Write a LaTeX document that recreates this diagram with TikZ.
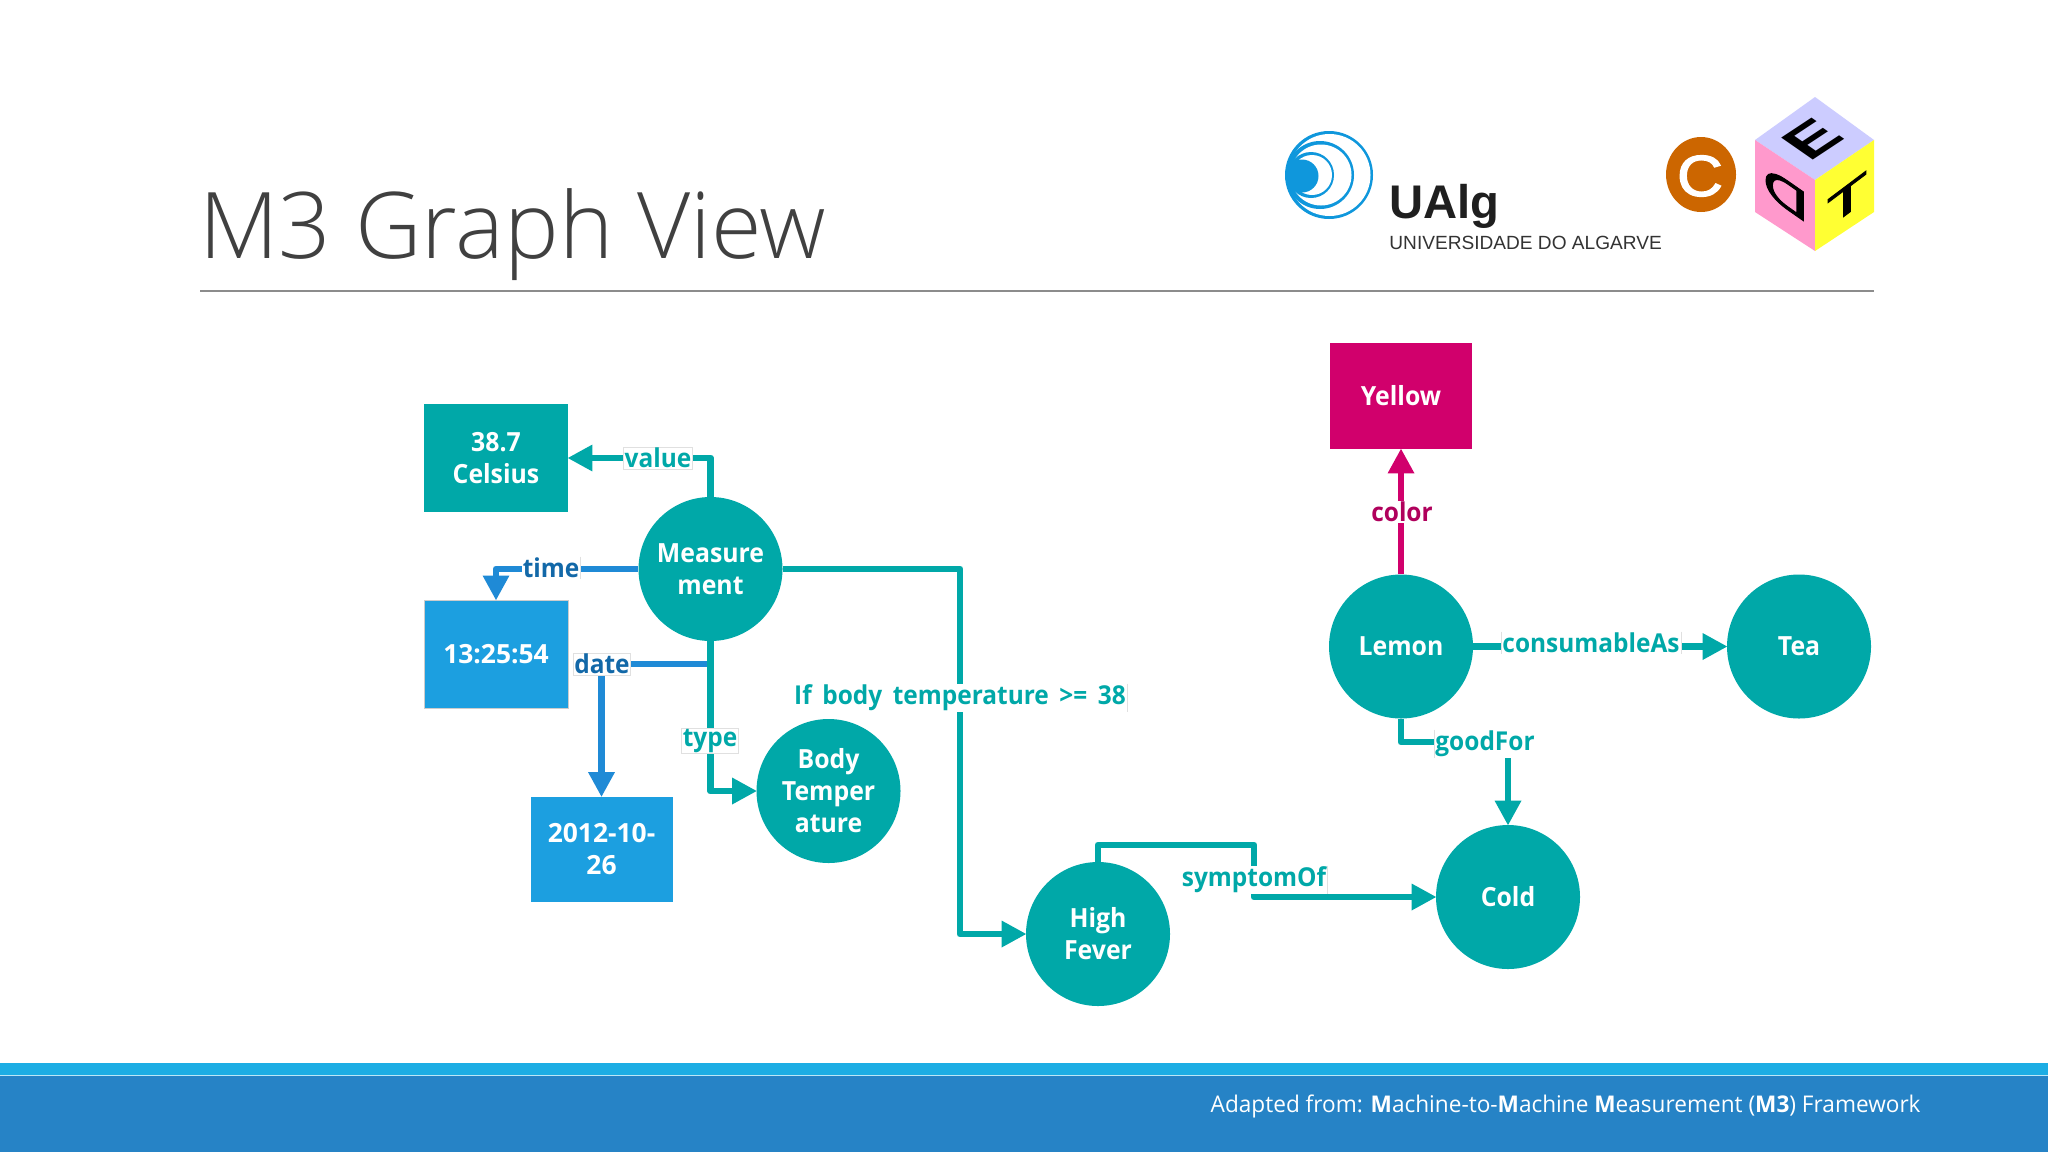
\documentclass[tikz,border=0pt]{standalone}
\usepackage{fontspec}
\setmainfont{Open Sans}
\newfontfamily\lightf{Open Sans Light}
\newfontfamily\narrowf[FakeStretch=0.94]{Open Sans}
\newfontfamily\footf[FakeStretch=0.983]{Open Sans}
\newfontfamily\arialf{Liberation Sans}
\newfontfamily\cubef[FakeBold=2.5]{Liberation Sans}
\newfontfamily\clogof[FakeBold=2]{Liberation Sans}
\usetikzlibrary{arrows.meta}
\definecolor{teal1}{HTML}{00A8A8}
\definecolor{blue1}{HTML}{1C9FE0}
\definecolor{blueline}{HTML}{1F8AD6}
\definecolor{bluetxt}{HTML}{1268A8}
\definecolor{magenta1}{HTML}{D1006C}
\definecolor{magtxt}{HTML}{B0005C}
\definecolor{band1}{HTML}{1CADE4}
\definecolor{band2}{HTML}{2683C6}
\definecolor{ualg}{HTML}{0F97DC}
\definecolor{cor}{HTML}{CC6600}
\definecolor{cubetop}{HTML}{CCCCFF}
\definecolor{cubeleft}{HTML}{FF99CC}
\definecolor{cuberight}{HTML}{FFFF33}
\tikzset{
 x=0.5pt,y=-0.5pt,
 circ/.style={circle,fill=teal1,draw=none,minimum size=72pt,inner sep=0pt,align=center,text=white,font=\narrowf\fontsize{13.2}{16}\selectfont\bfseries},
 boxn/.style={rectangle,fill=#1,draw=none,inner sep=0pt,align=center,text=white,font=\narrowf\fontsize{13.2}{16}\selectfont\bfseries},
 boxw/.style={boxn=#1,font=\fontsize{13.2}{16}\selectfont\bfseries},
 edge/.style={line width=3.4pt,draw=#1,line join=round,shorten >=-0.5pt,-{Triangle[length=12.5pt,width=12.5pt]}},
 lab/.style={fill=white,inner sep=0.5pt,font=\narrowf\fontsize{13}{15}\selectfont\bfseries,text=#1},
 ghost/.style={draw=black!12,line width=0.4pt},
}
\begin{document}
\begin{tikzpicture}
\useasboundingbox (0,0) rectangle (2048,1152);
\fill[white] (0,0) rectangle (2048,1152);
% title
\node[anchor=base west,inner sep=0pt,text=black!75] (title) at (199,258) {\lightf\fontsize{46}{50}\selectfont M3 Graph View};
\coordinate (ruleL) at (200,291);\coordinate (ruleR) at (1874,291);
\draw[black!45,line width=0.8pt] (ruleL) -- (ruleR);
% band
\fill[band1] (0,1063) rectangle (2048,1075);
\fill[band2] (0,1075) rectangle (2048,1152);
\draw[white!70!band1,line width=0.5pt] (0,1075) -- (2048,1075);
\node[anchor=base east,inner sep=0pt,text=white] (foot) at (1921,1112) {\footf\fontsize{11.5}{14}\selectfont Adapted from: \textbf{M}achine-to-\textbf{M}achine \textbf{M}easurement (\textbf{M3}) Framework};
% ualg logo
\fill[ualg] (1329,175) circle (44);
\fill[white] (1329.5,175) circle (41);
\fill[ualg] (1320,175) circle (34);
\fill[white] (1321,175) circle (30.5);
\fill[ualg] (1311,175) circle (23);
\fill[white] (1312,175) circle (20);
\fill[ualg] (1302,176) circle (16.5);
\node[anchor=base west,inner sep=0pt,text=black!88] (ualgt) at (1389,218) {\arialf\bfseries\fontsize{23.6}{26}\selectfont UAlg};
\node[anchor=base west,inner sep=0pt,text=black!80] (ualgs) at (1389,249) {\arialf\fontsize{9.55}{12}\selectfont UNIVERSIDADE DO ALGARVE};
% C logo
\fill[cor] (1701,174.5) ellipse [x radius=35,y radius=37.5];
\node[text=white,inner sep=0pt] (clogo) at (1700,176) {\clogof\fontsize{29}{30}\selectfont\scalebox{1.1}[1]{C}};
% cube
\fill[cubetop] (1815,97) -- (1874,140) -- (1815,180) -- (1755,140) -- cycle;
\fill[cubeleft] (1755,140) -- (1815,180) -- (1815,251) -- (1755,212) -- cycle;
\fill[cuberight] (1874,140) -- (1815,180) -- (1815,251) -- (1874,212) -- cycle;
\begin{scope}[shift={(1812.7,139.3)},cm={1.0,.66,-.82,.57,(0,0)}]
\node[transform shape,inner sep=0pt] (le) at (0,0) {\arialf\bfseries\fontsize{28}{30}\selectfont E};
\end{scope}
\begin{scope}[shift={(1785.7,194)},cm={-1.55,1.08,0,-1.05,(0,0)}]
\node[transform shape,inner sep=0pt] (ld) at (0,0) {\cubef\fontsize{20}{24}\selectfont D};
\end{scope}
\begin{scope}[shift={(1847,199.7)},cm={1.57,1.18,0,1,(0,0)}]
\node[transform shape,inner sep=0pt] (lt) at (0,0) {\cubef\fontsize{21}{24}\selectfont T};
\end{scope}
% nodes
\node[boxn=teal1,minimum width=72pt,minimum height=54pt] (celsius) at (496,458) {38.7\\Celsius};
\node[boxw=blue1,minimum width=72pt,minimum height=54pt,draw=black!20,line width=0.5pt] (time) at (496,654) {13:25:54};
\node[boxw=blue1,minimum width=71pt,minimum height=52.5pt] (date) at (601.5,849) {2012-10-\\26};
\node[circ] (meas) at (710.5,569) {Measure\\ment};
\node[circ] (body) at (828.5,791) {Body\\Temper\\ature};
\node[circ] (fever) at (1098,934) {High\\Fever};
\node[circ] (cold) at (1508,897) {Cold};
\node[circ] (lemon) at (1401,646.5) {Lemon};
\node[circ] (tea) at (1799,646.5) {Tea};
\node[boxn=magenta1,minimum width=71pt,minimum height=53pt] (yellow) at (1401,396) {Yellow};
% label anchors
\coordinate (dj) at (710.5,664);
\coordinate (sc) at (1254,845);
\coordinate (ifc) at (960,750);
\coordinate (gfc) at (1508,742);
% connectors
\draw[edge=blueline] (dj) -| (date.north);
\draw[edge=teal1] (meas.north) |- (celsius.east);
\draw[edge=blueline] (meas.west) -| (time.north);
\draw[edge=teal1] (meas.south) |- (body.west);
\draw[edge=teal1] (meas.east) -| (ifc) |- (fever.west);
\draw[edge=teal1] (fever.north) |- (sc) |- (cold.west);
\draw[edge=teal1] (lemon.south) |- (gfc) -- (cold.north);
\draw[edge=teal1] (lemon.east) -- (tea.west);
\draw[edge=magenta1] (lemon.north) -- (yellow.south);
% labels
\node[lab=teal1,ghost] (lvalue) at (658,458) {value};
\node[lab=bluetxt] (ltime) at (551,568) {time};
\node[lab=bluetxt,ghost] (ldate) at (602,664) {date};
\node[lab=teal1,ghost] (ltype) at (710,741) {type};
\node[lab=teal1] (lif) at (960,698) {If\hspace{2.1pt} body\hspace{2.1pt} temperature\hspace{2.1pt} >=\hspace{2.1pt} 38};
\node[lab=teal1] (lsym) at (1254,880) {symptomOf};
\node[lab=teal1] (lgood) at (1485,744) {goodFor};
\node[lab=teal1] (lcons) at (1591,643) {consumableAs};
\node[lab=magtxt] (lcolor) at (1402,512) {color};
\draw[ghost] (ltime.north east) -- (ltime.south east);
\draw[ghost] (lif.north east) -- (lif.south east);
\draw[ghost] (lsym.north east) -- (lsym.south east);
\draw[ghost] (lgood.north west) -- (lgood.south west);
\draw[ghost] (lcons.north west) -- (lcons.south west);
\draw[ghost] (lcons.north east) -- (lcons.south east);
\end{tikzpicture}
\end{document}
